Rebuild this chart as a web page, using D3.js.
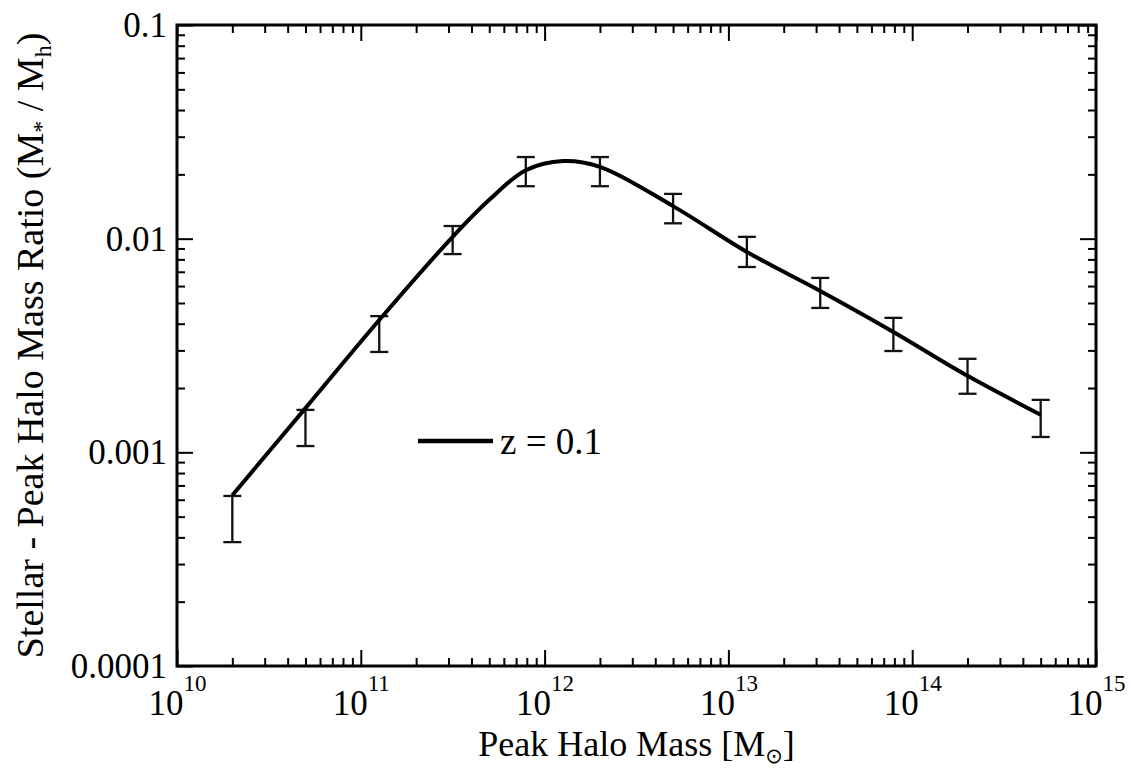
<!DOCTYPE html>
<html>
<head>
<meta charset="utf-8">
<script src="https://cdn.jsdelivr.net/npm/d3@7"></script>
<style>
  body { margin: 0; background: #fff; }
  svg { display: block; }
</style>
</head>
<body>
<svg id="chart" width="1132" height="768"></svg>
<script>
// Axis ticks
const massTicks = [1e10, 1e11, 1e12, 1e13, 1e14, 1e15];
const ratioTicks = [1e-4, 1e-3, 1e-2, 1e-1];
const ratioTickLabels = ["0.0001", "0.001", "0.01", "0.1"];

// Binned constraints (error bars): peak halo mass and ratio range
const binMass  = [2e10, 5e10, 1.26e11, 3.16e11, 7.9e11, 2e12, 5e12, 1.26e13, 3.16e13, 7.9e13, 2e14, 5e14];
const ratioLow  = [3.8e-4, 1.07e-3, 2.95e-3, 8.47e-3, 0.0176, 0.0176, 0.0118, 7.37e-3, 4.74e-3, 2.98e-3, 1.88e-3, 1.18e-3];
const ratioHigh = [6.25e-4, 1.58e-3, 4.34e-3, 0.01146, 0.0241, 0.0241, 0.0162, 0.0102, 6.55e-3, 4.26e-3, 2.74e-3, 1.76e-3];

// Best-fit relation at z = 0.1
const curveMass  = [2e10, 5e10, 1.26e11, 3.16e11, 5e11, 7.9e11, 1.26e12, 2e12, 5e12, 1.26e13, 3.16e13, 7.9e13, 2e14, 5e14];
const curveRatio = [6.3e-4, 1.61e-3, 4.16e-3, 0.0102, 0.0152, 0.0209, 0.0231, 0.0217, 0.0142, 8.67e-3, 5.69e-3, 3.66e-3, 2.28e-3, 1.50e-3];

const legendLabel = "z = 0.1";

const SERIF = "'Liberation Serif', 'Times New Roman', 'DejaVu Serif', serif";

const svg = d3.select("#chart").attr("font-family", SERIF);
svg.append("rect").attr("width", 1132).attr("height", 768).attr("fill", "#fff");

const plotLeft = 177, plotRight = 1096, plotTop = 25, plotBottom = 666;
const x = d3.scaleLog().domain([1e10, 1e15]).range([plotLeft, plotRight]);
const y = d3.scaleLog().domain([1e-4, 1e-1]).range([plotBottom, plotTop]);

const majorX = new Set(massTicks.map(v => Math.round(Math.log10(v) * 1000)));
const majorY = new Set(ratioTicks.map(v => Math.round(Math.log10(v) * 1000)));
const minorXTicks = x.ticks().filter(v => !majorX.has(Math.round(Math.log10(v) * 1000)));
const minorYTicks = y.ticks().filter(v => !majorY.has(Math.round(Math.log10(v) * 1000)));

function styleAxis(g) {
  g.attr("font-family", SERIF);
  g.select(".domain").remove();
  g.selectAll(".tick line").attr("stroke", "#000").attr("stroke-width", 2);
}

const MAJOR = 16, MINOR = 8;

// bottom axis
svg.append("g").attr("transform", `translate(0,${plotBottom})`)
  .call(d3.axisBottom(x).tickValues(minorXTicks).tickSize(-MINOR).tickFormat(""))
  .call(styleAxis);
const xAxisG = svg.append("g").attr("transform", `translate(0,${plotBottom})`)
  .call(d3.axisBottom(x).tickValues(massTicks).tickSize(-MAJOR).tickFormat(d => ""))
  .call(styleAxis);
xAxisG.selectAll(".tick text").each(function(d) {
  const t = d3.select(this);
  t.attr("y", 49).attr("dy", 0).attr("font-size", 35).attr("font-family", SERIF)
   .attr("text-anchor", "middle").attr("fill", "#000");
  t.append("tspan").text("10");
  t.append("tspan").attr("dy", -24).attr("font-size", 23).text(Math.round(Math.log10(d)));
});

// top axis
svg.append("g").attr("transform", `translate(0,${plotTop})`)
  .call(d3.axisTop(x).tickValues(minorXTicks).tickSize(-MINOR).tickFormat(""))
  .call(styleAxis);
svg.append("g").attr("transform", `translate(0,${plotTop})`)
  .call(d3.axisTop(x).tickValues(massTicks).tickSize(-MAJOR).tickFormat(""))
  .call(styleAxis);

// left axis
svg.append("g").attr("transform", `translate(${plotLeft},0)`)
  .call(d3.axisLeft(y).tickValues(minorYTicks).tickSize(-MINOR).tickFormat(""))
  .call(styleAxis);
const yAxisG = svg.append("g").attr("transform", `translate(${plotLeft},0)`)
  .call(d3.axisLeft(y).tickValues(ratioTicks).tickSize(-MAJOR)
    .tickFormat((d, i) => ratioTickLabels[i]))
  .call(styleAxis);
yAxisG.selectAll(".tick text")
  .attr("x", -10).attr("dy", "0.33em").attr("font-size", 35)
  .attr("font-family", SERIF).attr("fill", "#000");

// right axis
svg.append("g").attr("transform", `translate(${plotRight},0)`)
  .call(d3.axisRight(y).tickValues(minorYTicks).tickSize(-MINOR).tickFormat(""))
  .call(styleAxis);
svg.append("g").attr("transform", `translate(${plotRight},0)`)
  .call(d3.axisRight(y).tickValues(ratioTicks).tickSize(-MAJOR).tickFormat(""))
  .call(styleAxis);

// frame
svg.append("rect")
  .attr("x", plotLeft).attr("y", plotTop)
  .attr("width", plotRight - plotLeft).attr("height", plotBottom - plotTop)
  .attr("fill", "none").attr("stroke", "#000").attr("stroke-width", 3);

// error bars
const bins = binMass.map((m, i) => ({ m, lo: ratioLow[i], hi: ratioHigh[i] }));
const capHalf = 9;
const eb = svg.append("g").attr("stroke", "#111").attr("stroke-width", 2.3).attr("fill", "none");
eb.selectAll("line.v").data(bins).join("line").attr("class", "v")
  .attr("x1", d => x(d.m)).attr("x2", d => x(d.m))
  .attr("y1", d => y(d.lo)).attr("y2", d => y(d.hi));
eb.selectAll("line.capHi").data(bins).join("line").attr("class", "capHi")
  .attr("x1", d => x(d.m) - capHalf).attr("x2", d => x(d.m) + capHalf)
  .attr("y1", d => y(d.hi)).attr("y2", d => y(d.hi));
eb.selectAll("line.capLo").data(bins).join("line").attr("class", "capLo")
  .attr("x1", d => x(d.m) - capHalf).attr("x2", d => x(d.m) + capHalf)
  .attr("y1", d => y(d.lo)).attr("y2", d => y(d.lo));

// best-fit curve
const curve = curveMass.map((m, i) => ({ m, r: curveRatio[i] }));
svg.append("path").datum(curve)
  .attr("fill", "none").attr("stroke", "#000").attr("stroke-width", 4)
  .attr("stroke-linejoin", "round").attr("stroke-linecap", "butt")
  .attr("d", d3.line().x(d => x(d.m)).y(d => y(d.r)).curve(d3.curveCatmullRom.alpha(0.5)));

// legend
svg.append("line").attr("x1", 418).attr("x2", 493).attr("y1", 441).attr("y2", 441)
  .attr("stroke", "#000").attr("stroke-width", 4.5);
svg.append("text").attr("x", 500).attr("y", 454).attr("font-size", 37)
  .attr("font-family", SERIF).text(legendLabel);

// x title
const xt = svg.append("text").attr("x", (plotLeft + plotRight) / 2).attr("y", 756)
  .attr("text-anchor", "middle").attr("font-size", 36).attr("font-family", SERIF);
xt.append("tspan").text("Peak Halo Mass [M");
xt.append("tspan").attr("dy", 7).attr("font-size", 21).attr("font-family", "'DejaVu Sans', sans-serif").text("⊙");
xt.append("tspan").attr("dy", -7).text("]");

// y title
const yt = svg.append("text")
  .attr("transform", `translate(43,${(plotTop + plotBottom) / 2}) rotate(-90)`)
  .attr("text-anchor", "middle").attr("font-size", 38).attr("font-family", SERIF);
yt.append("tspan").text("Stellar - Peak Halo Mass Ratio (M");
yt.append("tspan").attr("dy", 6).attr("font-size", 24).text("*");
yt.append("tspan").attr("dy", -6).text(" / M");
yt.append("tspan").attr("dy", 8).attr("font-size", 24).text("h");
yt.append("tspan").attr("dy", -8).text(")");
</script>
</body>
</html>
